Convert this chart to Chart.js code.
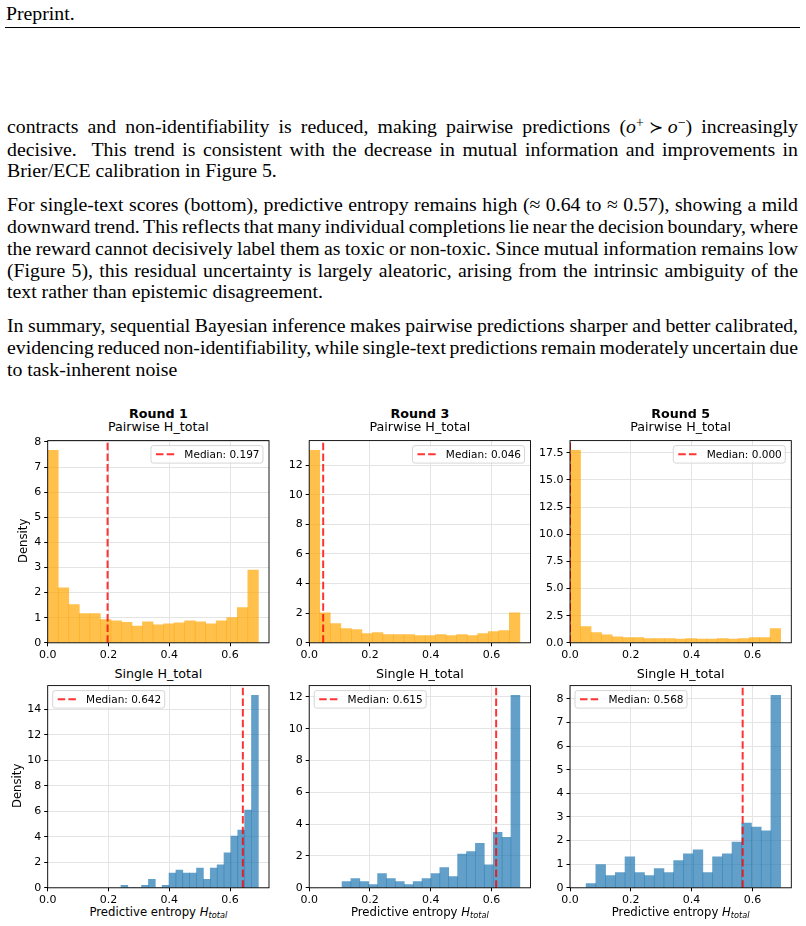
<!DOCTYPE html>
<html>
<head>
<meta charset="utf-8">
<script src="https://cdn.jsdelivr.net/npm/chart.js@4.4.1/dist/chart.umd.min.js"></script>
<style>
  html, body { margin: 0; padding: 0; background: #fff; }
  #page { position: relative; width: 806px; height: 926px; overflow: hidden; background: #fff; }
  .paper { font-family: "Liberation Serif", "Times New Roman", serif; font-size: 19.8px; color: #000; }
  #header { position: absolute; left: 6px; top: 3px; line-height: 21.7px; }
  #rule { position: absolute; left: 5px; width: 795px; top: 27px; height: 1px; background: #000; }
  #text { position: absolute; left: 7px; top: 116px; width: 791px; line-height: 21.7px; }
  .para { margin-bottom: 12.3px; }
  .ln { white-space: nowrap; text-align: justify; text-align-last: justify; word-spacing: -2px; }
  .ln.last { text-align: left; text-align-last: left; word-spacing: 0; }
  sup { font-size: 0.7em; line-height: 0; vertical-align: 0.45em; }
  .rel { font-family: "DejaVu Serif", serif; font-size: 0.85em; padding: 0 0.3em; }
  .fig { position: absolute; font-family: "DejaVu Sans", sans-serif; color: #000; white-space: nowrap; line-height: 1; }
  canvas { position: absolute; }
</style>
</head>
<body>
<div id="page">
  <div id="header" class="paper">Preprint.</div>
  <div id="rule"></div>
  <div id="text" class="paper">
    <div class="para">
      <div class="ln">contracts and non-identifiability is reduced, making pairwise predictions (<i>o</i><sup>+</sup><span class="rel">≻</span><i>o</i><sup>−</sup>) increasingly</div>
      <div class="ln">decisive.&nbsp; This trend is consistent with the decrease in mutual information and improvements in</div>
      <div class="ln last">Brier/ECE calibration in Figure 5.</div>
    </div>
    <div class="para">
      <div class="ln">For single-text scores (bottom), predictive entropy remains high (≈ 0.64 to ≈ 0.57), showing a mild</div>
      <div class="ln">downward trend. This reflects that many individual completions lie near the decision boundary, where</div>
      <div class="ln">the reward cannot decisively label them as toxic or non-toxic. Since mutual information remains low</div>
      <div class="ln">(Figure 5), this residual uncertainty is largely aleatoric, arising from the intrinsic ambiguity of the</div>
      <div class="ln last">text rather than epistemic disagreement.</div>
    </div>
    <div class="para">
      <div class="ln">In summary, sequential Bayesian inference makes pairwise predictions sharper and better calibrated,</div>
      <div class="ln">evidencing reduced non-identifiability, while single-text predictions remain moderately uncertain due</div>
      <div class="ln last">to task-inherent noise</div>
    </div>
  </div>
</div>
<script>
const rounds = ['Round 1', 'Round 3', 'Round 5'];
const binHi = 0.693;
const xMax = 0.728;

const pairwiseLo = [0, 0, 0];
const pairwiseR1 = [7.67, 2.19, 1.52, 1.16, 1.16, 0.92, 0.88, 0.82, 0.67, 0.84, 0.72, 0.76, 0.80, 0.88, 0.84, 0.76, 0.88, 1.00, 1.40, 2.90];
const pairwiseR3 = [13.0, 2.03, 1.30, 0.96, 0.89, 0.63, 0.69, 0.56, 0.56, 0.56, 0.49, 0.49, 0.56, 0.49, 0.56, 0.49, 0.63, 0.76, 0.83, 2.03];
const pairwiseR5 = [17.74, 1.49, 0.95, 0.73, 0.55, 0.49, 0.49, 0.40, 0.40, 0.40, 0.34, 0.40, 0.34, 0.34, 0.40, 0.34, 0.40, 0.49, 0.49, 1.31];
const pairwiseMedian = [0.197, 0.046, 0.000];

const singleLo = [0.241, 0.108, 0.053];
const singleR1 = [0.19, 0, 0, 0.19, 0.67, 0, 0.19, 1.15, 1.39, 1.15, 1.15, 1.55, 0.67, 1.55, 1.80, 2.74, 4.05, 4.52, 6.09, 15.10];
const singleR3 = [0.39, 0.58, 0.39, 0.20, 0.89, 0.58, 0.39, 0.20, 0.39, 0.58, 0.89, 1.27, 0.70, 2.12, 2.28, 2.80, 1.45, 3.49, 3.17, 12.10];
const singleR5 = [0.18, 0.98, 0.52, 0.64, 1.31, 0.64, 0.52, 0.81, 0.64, 1.15, 1.44, 1.61, 0.64, 1.31, 1.44, 1.94, 2.74, 2.57, 2.41, 8.15];
const singleMedian = [0.642, 0.615, 0.568];

const xTicksStep = 0.2;
const yStepPairwise = [1, 2, 2.5];
const yStepSingle = [2, 2, 1];

// Geometria de los paneles
const plotLeft = [47.7, 309.2, 570];
const plotTop = [439, 684];
const plotW = 221.3;
const plotH = 203.8;

const orange = 'rgba(255,165,0,0.7)';
const blue = 'rgba(31,119,180,0.7)';
const gridColor = '#e4e4e4';

Chart.defaults.font.family = '"DejaVu Sans", sans-serif';
Chart.defaults.font.size = 11;
Chart.defaults.color = '#000';

const page = document.getElementById('page');

function placeText(html, centerX, baseline, size, bold) {
    const el = document.createElement('div');
    el.className = 'fig';
    el.innerHTML = html;
    el.style.fontSize = size + 'px';
    if (bold) el.style.fontWeight = 'bold';
    el.style.left = (centerX - 150) + 'px';
    el.style.width = '300px';
    el.style.textAlign = 'center';
    el.style.top = (baseline - 0.846 * size) + 'px';
    page.appendChild(el);
}

function placeYLabel(text, baselineX, centerY, size) {
    const el = document.createElement('div');
    el.className = 'fig';
    el.textContent = text;
    el.style.fontSize = size + 'px';
    el.style.width = '100px';
    el.style.textAlign = 'center';
    const cx = baselineX - 0.346 * size;
    el.style.left = (cx - 50) + 'px';
    el.style.top = (centerY - size / 2) + 'px';
    el.style.transform = 'rotate(-90deg)';
    page.appendChild(el);
}

// Marco negro alrededor del area del grafico
const framePlugin = {
    id: 'frame',
    afterDatasetsDraw(chart) {
        const { ctx, chartArea: a } = chart;
        ctx.save();
        ctx.strokeStyle = '#000';
        ctx.lineWidth = 0.9;
        ctx.strokeRect(a.left, a.top, a.right - a.left, a.bottom - a.top);
        ctx.restore();
    }
};

// Leyenda dentro del area, estilo matplotlib
const medianLegend = {
    id: 'medianLegend',
    afterDraw(chart, args, opts) {
        const { ctx, chartArea: a } = chart;
        const ds = chart.data.datasets[0];
        ctx.save();
        ctx.font = '10.5px "DejaVu Sans"';
        const tw = ctx.measureText(ds.label).width;
        const w = 33.4 + tw + 3.5;
        const h = 17.5;
        const x = opts.corner === 'right' ? a.right - 6 - w : a.left + 5;
        const y = a.top + 5;
        ctx.beginPath();
        ctx.roundRect(x, y, w, h, 2.5);
        ctx.fillStyle = 'rgba(255,255,255,0.8)';
        ctx.fill();
        ctx.strokeStyle = 'rgba(204,204,204,0.8)';
        ctx.lineWidth = 1;
        ctx.stroke();
        ctx.beginPath();
        ctx.setLineDash(ds.borderDash);
        ctx.strokeStyle = ds.borderColor;
        ctx.lineWidth = ds.borderWidth;
        ctx.moveTo(x + 5, y + h / 2);
        ctx.lineTo(x + 25.7, y + h / 2);
        ctx.stroke();
        ctx.setLineDash([]);
        ctx.fillStyle = '#000';
        ctx.textBaseline = 'middle';
        ctx.fillText(ds.label, x + 33.4, y + h / 2 + 0.5);
        ctx.restore();
    }
};

function drawPanel(col, row, values, lo, median, yStep, yDecimals, color, corner) {
    const left = plotLeft[col];
    const top = plotTop[row];
    const cx = Math.floor(left - 44);
    const cy = Math.floor(top - 8);
    const cw = Math.ceil(left + plotW + 8 - cx);
    const ch = Math.ceil(top + plotH + 26 - cy);
    const yAxisW = left - cx;
    const padTop = top - cy;
    const padRight = cx + cw - (left + plotW);
    const xAxisH = cy + ch - (top + plotH);

    const canvas = document.createElement('canvas');
    canvas.width = cw;
    canvas.height = ch;
    canvas.style.left = cx + 'px';
    canvas.style.top = cy + 'px';
    page.appendChild(canvas);

    const binW = (binHi - lo) / values.length;
    const bars = values.map((v, i) => ({ x: lo + (i + 0.5) * binW, y: v }));
    const yMax = Math.max(...values) * 1.05;

    new Chart(canvas, {
        type: 'bar',
        data: {
            datasets: [
                {
                    type: 'line',
                    label: 'Median: ' + median.toFixed(3),
                    data: [{ x: median, y: 0 }, { x: median, y: yMax }],
                    borderColor: 'rgba(255,0,0,0.8)',
                    borderWidth: 2,
                    borderDash: [7.5, 3.2],
                    pointRadius: 0,
                    order: 0
                },
                {
                    type: 'bar',
                    label: 'H_total',
                    data: bars,
                    backgroundColor: color,
                    borderWidth: 0,
                    barPercentage: 1,
                    categoryPercentage: 1,
                    order: 1
                }
            ]
        },
        options: {
            responsive: false,
            animation: false,
            events: [],
            layout: { padding: { left: 0, top: padTop, right: padRight, bottom: 0 } },
            plugins: {
                legend: { display: false },
                tooltip: { enabled: false },
                medianLegend: { corner }
            },
            scales: {
                x: {
                    type: 'linear',
                    min: 0,
                    max: xMax,
                    offset: false,
                    ticks: {
                        stepSize: xTicksStep,
                        includeBounds: false,
                        autoSkip: false,
                        maxRotation: 0,
                        padding: 2,
                        callback: v => v.toFixed(1)
                    },
                    grid: { color: gridColor, tickColor: '#000', tickLength: 3.5, offset: false },
                    border: { display: false },
                    afterFit: s => { s.height = xAxisH; }
                },
                y: {
                    min: 0,
                    max: yMax,
                    ticks: {
                        stepSize: yStep,
                        includeBounds: false,
                        padding: 3,
                        callback: v => v.toFixed(yDecimals)
                    },
                    grid: { color: gridColor, tickColor: '#000', tickLength: 3.5 },
                    border: { display: false },
                    afterFit: s => { s.width = yAxisW; }
                }
            }
        },
        plugins: [framePlugin, medianLegend]
    });
}

const pairwiseSets = [pairwiseR1, pairwiseR3, pairwiseR5];
const singleSets = [singleR1, singleR3, singleR5];

for (let c = 0; c < 3; c++) {
    const mid = plotLeft[c] + plotW / 2;
    placeText(rounds[c], mid, 418.6, 12.7, true);
    placeText('Pairwise H_total', mid, 432, 12.7, false);
    placeText('Single H_total', mid, 678.6, 12.7, false);
    placeText('Predictive entropy <i>H</i><sub style="font-size:0.7em;line-height:0;vertical-align:-0.25em"><i>total</i></sub>', mid, 916.7, 11.7, false);

    drawPanel(c, 0, pairwiseSets[c], pairwiseLo[c], pairwiseMedian[c], yStepPairwise[c], yStepPairwise[c] % 1 ? 1 : 0, orange, 'right');
    drawPanel(c, 1, singleSets[c], singleLo[c], singleMedian[c], yStepSingle[c], yStepSingle[c] % 1 ? 1 : 0, blue, 'left');
}

placeYLabel('Density', 28.4, plotTop[0] + plotH / 2, 11.7);
placeYLabel('Density', 21.7, plotTop[1] + plotH / 2, 11.7);
</script>
</body>
</html>
